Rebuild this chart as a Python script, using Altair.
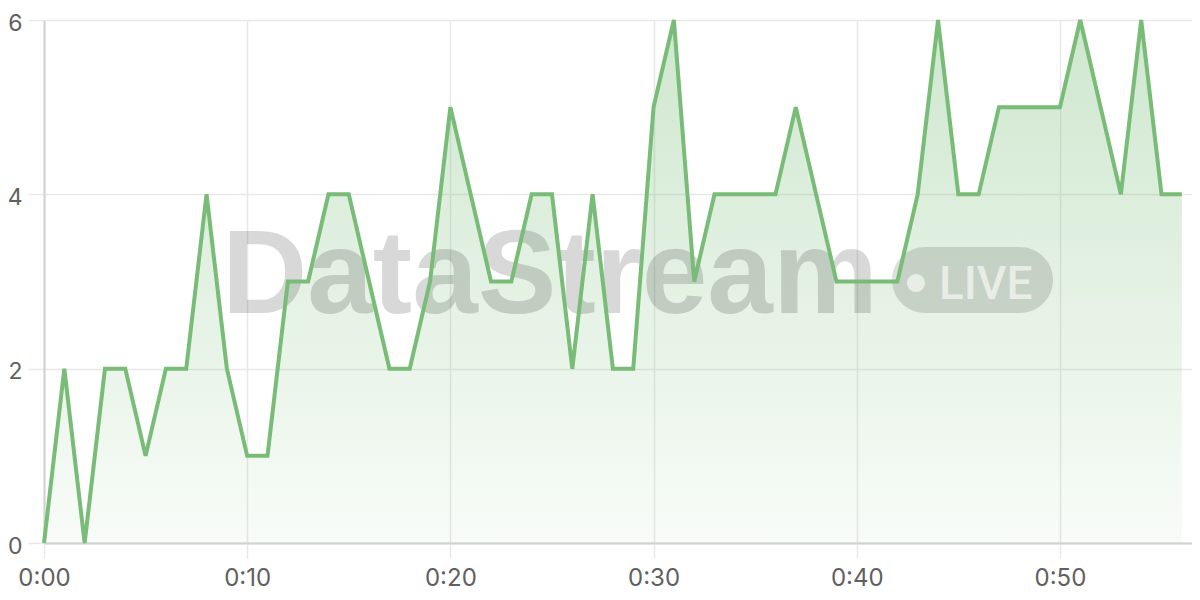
import altair as alt
import pandas as pd

# time in seconds (one sample per second)
seconds = list(range(57))
values = [0, 2, 0, 2, 2, 1, 2, 2, 4, 2,
          1, 1, 3, 3, 4, 4, 3, 2, 2, 3,
          5, 4, 3, 3, 4, 4, 2, 4, 2, 2,
          5, 6, 3, 4, 4, 4, 4, 5, 4, 3,
          3, 3, 3, 4, 6, 4, 4, 5, 5, 5,
          5, 6, 5, 4, 6, 4, 4]
x_ticks = [0, 10, 20, 30, 40, 50]
y_ticks = [0, 2, 4, 6]
watermark_text = "DataStream"
badge_text = "LIVE"

df = pd.DataFrame({"t": seconds, "v": values})
one = pd.DataFrame({"a": [0]})

LINE = "#78bc78"
GRID = "#e8e8e8"
DOMAIN = "#d2d2d2"
LABEL = "#606060"
FONT = "Inter"

x_scale = alt.Scale(domain=[0, 56.5], nice=False, zero=False)
y_scale = alt.Scale(domain=[0, 6], nice=False)

x_axis = alt.Axis(
    values=x_ticks,
    labelExpr="floor(datum.value / 60) + ':' + (datum.value % 60 < 10 ? '0' : '') + (datum.value % 60)",
    title=None, grid=True, gridColor=GRID, gridWidth=1.5,
    tickColor=GRID, tickSize=15, tickWidth=1.5,
    domainColor=DOMAIN, domainWidth=2,
    labelFont=FONT, labelFontSize=24, labelColor=LABEL, labelPadding=8,
    labelFlush=False, labelOverlap=False,
)
y_axis = alt.Axis(
    values=y_ticks, title=None, grid=True, gridColor=GRID, gridWidth=1.5,
    tickColor=GRID, tickSize=16, tickWidth=1.5,
    domainColor=DOMAIN, domainWidth=2,
    labelFont=FONT, labelFontSize=23, labelColor=LABEL, labelPadding=6,
    labelOffset=3,
    labelFlush=False, labelOverlap=False, labelBound=False,
)

base = alt.Chart(df).encode(
    x=alt.X("t:Q", scale=x_scale, axis=x_axis),
    y=alt.Y("v:Q", scale=y_scale, axis=y_axis),
)

area = base.mark_area(
    color=alt.Gradient(
        gradient="linear",
        stops=[
            alt.GradientStop(color="rgba(120,188,120,0.05)", offset=0),
            alt.GradientStop(color="rgba(120,188,120,0.36)", offset=1),
        ],
        x1=1, x2=1, y1=1, y2=0,
    ),
    interpolate="linear",
)

wm = alt.Chart(one).mark_text(
    text=watermark_text, font="Liberation Sans", fontWeight="bold", fontSize=118,
    color="black", opacity=0.15, align="left", baseline="alphabetic",
).encode(x=alt.value(178), y=alt.value(293))

pill = alt.Chart(one).mark_rect(
    color="black", opacity=0.13, cornerRadius=33,
).encode(x=alt.value(848), x2=alt.value(1009), y=alt.value(227), y2=alt.value(293))

dot = alt.Chart(one).mark_point(
    filled=True, shape="circle", size=330, color="white", opacity=0.6,
).encode(x=alt.value(872), y=alt.value(263))

live = alt.Chart(one).mark_text(
    text=badge_text, font="Roboto", fontWeight=500, fontSize=46,
    color="white", opacity=0.6, align="left", baseline="alphabetic",
).encode(x=alt.value(895), y=alt.value(279))

line = base.mark_line(color=LINE, strokeWidth=4, strokeJoin="miter", interpolate="linear")

chart = alt.layer(area, wm, pill, dot, live, line).properties(
    width=1148, height=523,
    autosize=alt.AutoSizeParams(type="none"),
    padding={"left": 36, "top": 12, "right": 0, "bottom": 49},
).configure_view(stroke=None)

chart.save("out.html", embed_options={"renderer": "svg", "actions": False})
